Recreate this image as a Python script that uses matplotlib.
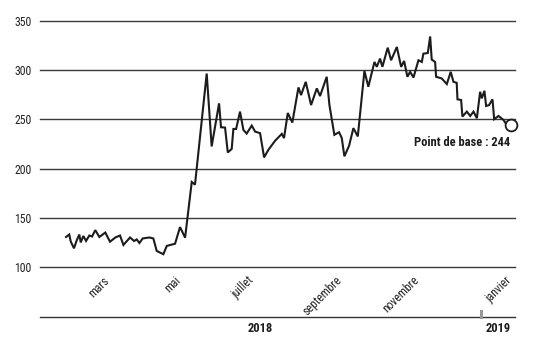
import matplotlib
matplotlib.use("Agg")
import matplotlib.pyplot as plt
from matplotlib import font_manager
from matplotlib.lines import Line2D
from matplotlib.transforms import blended_transform_factory

# prefer a narrow sans face when one is around
_names = {f.name for f in font_manager.fontManager.ttflist}
_narrow = [f.name for f in font_manager.fontManager.ttflist
           if "Narrow" in f.name or "Condensed" in f.name]
for cand in ["Liberation Sans Narrow", "Roboto Condensed", "Open Sans Condensed",
             "DejaVu Sans Condensed", "Noto Sans Condensed"] + _narrow:
    if cand in _names:
        FAMILY = cand
        break
else:
    FAMILY = "Roboto" if "Roboto" in _names else "DejaVu Sans"
plt.rcParams["font.family"] = [FAMILY, "DejaVu Sans"]

# days counted from 2018-01-01
day = [46.0, 48.5, 49.6, 52.1, 54.2, 56.2, 57.3, 59.3, 61.4, 63.9,
       66.0, 68.5, 71.6, 76.2, 79.8, 83.9, 87.5, 90.1, 95.2, 98.3,
       100.3, 102.4, 104.9, 110.0, 113.1, 115.7, 120.8, 123.4, 129.8, 133.6,
       137.5, 142.6, 145.1, 154.1, 157.9, 163.6, 165.1, 168.2, 170.3, 173.3,
       174.6, 176.7, 179.7, 182.3, 184.8, 188.7, 191.3, 195.1, 198.2, 201.5,
       206.6, 211.8, 213.5, 216.4, 219.9, 224.6, 226.6, 230.2, 234.3, 238.7,
       241.2, 246.3, 248.4, 252.2, 255.8, 257.9, 259.9, 263.5, 266.8, 270.2,
       275.3, 278.3, 283.0, 284.8, 287.3, 289.1, 293.2, 295.8, 300.2, 303.5,
       305.8, 308.3, 310.4, 313.0, 316.8, 319.4, 320.6, 324.0, 325.8, 327.0,
       329.6, 330.4, 334.7, 338.6, 341.6, 343.7, 346.2, 346.8, 349.6, 350.6,
       354.0, 356.6, 359.1, 361.7, 364.2, 365.5, 367.5, 368.8, 371.1, 373.7,
       375.0, 378.3, 382.1, 384.7, 387.8]
value = [130.5, 133, 126, 119, 127, 133, 125, 131.5, 126.5, 132,
         131, 137.5, 130.5, 135, 125.7, 130, 132, 122.4, 130, 126.4,
         128, 124.4, 129, 130, 129, 116.3, 113, 121.4, 123.7, 140.6,
         129.8, 186.4, 183.7, 296.6, 222.5, 266.3, 242, 241.7, 216.4, 220,
         240.3, 240.3, 257.9, 239.3, 235.6, 243.7, 237.6, 236, 211.4, 219.1,
         228.2, 235.3, 231, 256.5, 246.8, 282.5, 274.7, 288.2, 264.6, 281.5,
         273.7, 293.3, 264.6, 234.3, 237, 231, 212.5, 223.2, 241.1, 232.7,
         299.3, 283.2, 308.4, 303.4, 311.8, 303.4, 322.9, 310.1, 323.6, 303.4,
         309.4, 293.3, 298.3, 292.6, 310.1, 308.4, 316.8, 317.5, 334.3, 310.8,
         308.4, 293.3, 291.6, 285.9, 298.3, 288.2, 287.2, 270.4, 269.7, 252.9,
         257.9, 253.5, 257.9, 251.2, 278.1, 271.4, 279.1, 263.6, 264.6, 270.4,
         250.2, 253.5, 249.5, 244.4, 244]

y_ticks = [100, 150, 200, 250, 300, 350]
month_labels = ["mars", "mai", "juillet", "septembre", "novembre", "janvier"]
month_pos = [80.0, 134.5, 190.5, 258.0, 318.0, 388.5]
x_range = (26, 391)
year_start_2019 = 365
years = [("2018", (26 + 365) / 2), ("2019", (365 + 391) / 2)]

INK = "#1c1c1c"

fig = plt.figure(figsize=(5.37, 3.40), dpi=100)
ax = fig.add_axes([40 / 537, 1 - 267 / 340, 475 / 537, 246 / 340])

ax.set_xlim(*x_range)
ax.set_ylim(100, 350)
for spine in ax.spines.values():
    spine.set_visible(False)

for t in y_ticks:
    ax.axhline(t, color="#3a3a3a", lw=1.0, zorder=1, clip_on=False)
ax.set_yticks(y_ticks)
ax.set_yticklabels([str(t) for t in y_ticks], fontsize=8.5, color="#222222")
ax.tick_params(axis="y", length=0, pad=6)
ax.set_xticks([])

ax.plot(day, value, color=INK, lw=1.5, solid_joinstyle="miter", zorder=3)
ax.plot(day[-1], value[-1], "o", ms=8.5, mfc="white", mec=INK, mew=1.3,
        zorder=4, clip_on=False)
ax.text(day[-1] - 0.5, value[-1] - 17, f"Point de base : {value[-1]:.0f}",
        ha="right", va="center", fontsize=9, fontweight="bold", color=INK)

# month labels below the plot
tr = blended_transform_factory(ax.transData, fig.transFigure)
for lab, pos in zip(month_labels, month_pos):
    ax.text(pos, 1 - 281 / 340, lab, transform=tr, rotation=45,
            rotation_mode="anchor", ha="right", va="baseline",
            fontsize=8.5, color="#222222", clip_on=False)

# year axis at the bottom
tr_ax = blended_transform_factory(ax.transAxes, fig.transFigure)
fig.add_artist(Line2D([0, 1], [1 - 317 / 340] * 2, transform=tr_ax,
                      color="#333333", lw=1.0))
fig.add_artist(Line2D([year_start_2019] * 2, [1 - 317 / 340, 1 - 311 / 340],
                      transform=tr, color="#999999", lw=2.2))
for lab, pos in years:
    ax.text(pos, 1 - 329 / 340, lab, transform=tr, ha="center", va="center",
            fontsize=9, fontweight="bold", color=INK, clip_on=False)

fig.savefig("out.png", dpi=100)
